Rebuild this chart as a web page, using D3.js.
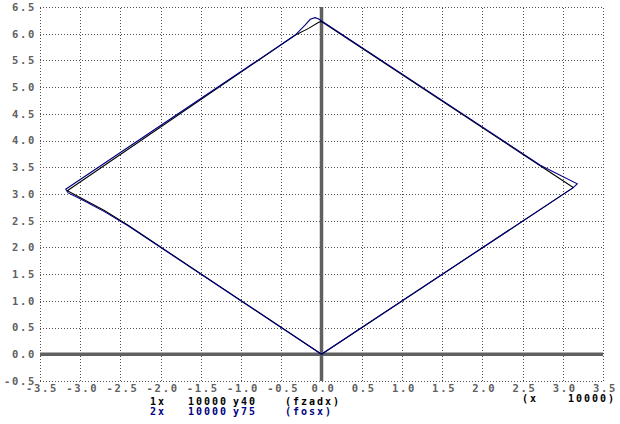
<!DOCTYPE html>
<html><head><meta charset="utf-8">
<script src="https://cdn.jsdelivr.net/npm/d3@7"></script>
<style>
html,body{margin:0;padding:0;background:#fff;}
svg{display:block;}
text{font-family:"DejaVu Sans Mono","Liberation Mono",monospace;font-weight:bold;font-size:10.5px;letter-spacing:1.7px;}
text.leg{font-size:10px;letter-spacing:2px;}
</style></head>
<body>
<script>
// Tick values / labels
const xTicks = [-3.5,-3.0,-2.5,-2.0,-1.5,-1.0,-0.5,0.0,0.5,1.0,1.5,2.0,2.5,3.0,3.5];
const xTickLabels = ["-3.5","-3.0","-2.5","-2.0","-1.5","-1.0","-0.5","0.0","0.5","1.0","1.5","2.0","2.5","3.0","3.5"];
const yTicks = [-0.5,0.0,0.5,1.0,1.5,2.0,2.5,3.0,3.5,4.0,4.5,5.0,5.5,6.0,6.5];
const yTickLabels = ["-0.5","0.0","0.5","1.0","1.5","2.0","2.5","3.0","3.5","4.0","4.5","5.0","5.5","6.0","6.5"];

// Series 1 (fzadx), black
const x1 = [0, 3.13, 0.00, -0.04, -0.16, -0.33, -3.16, -2.70, -2.40, 0];
const y1 = [0, 3.12, 6.23,  6.21,  6.10,  5.97,  3.06,  2.69,  2.41, 0];
// Series 2 (fosx), navy
const x2 = [0, 3.13, 3.18, 2.72, 0.02, -0.04, -0.08, -0.14, -0.205, -0.33, -3.18, -3.15, -3.00, -2.70, -2.40, 0];
const y2 = [0, 3.12, 3.19, 3.54, 6.22,  6.28,  6.30,  6.27,  6.16,  5.97,  3.09,  3.02,  2.91,  2.67,  2.40, 0];

const legendRows = [
  {num:"1x", scale:"10000", yv:"y40", name:"(fzadx)"},
  {num:"2x", scale:"10000", yv:"y75", name:"(fosx)"}
];
const seriesColors = ["#000000", "#000080"];

const W = 620, H = 424;
const svg = d3.select("body").append("svg").attr("width", W).attr("height", H);

const x = d3.scaleLinear().domain([-3.5, 3.5]).range([40, 603]);
const y = d3.scaleLinear().domain([-0.5, 6.5]).range([381, 7]);

const gridColor = "#505050";
const labelColor = "#606060";

// vertical grid + x labels
const gx = svg.append("g").attr("transform", `translate(0,${y(-0.5)})`)
  .call(d3.axisBottom(x).tickValues(xTicks)
    .tickSize(-(y(-0.5) - y(6.5)))
    .tickFormat((d,i) => xTickLabels[i]));
gx.select(".domain").remove();
gx.selectAll(".tick line").attr("stroke", gridColor).attr("stroke-dasharray", "1,2")
  .attr("shape-rendering", "crispEdges");
gx.selectAll(".tick text").attr("fill", labelColor).attr("font-family", null)
  .attr("font-size", null).attr("y", 11).attr("dy", 0).attr("dx", 1.5);

// horizontal grid + y labels
const gy = svg.append("g").attr("transform", `translate(${x(-3.5)},0)`)
  .call(d3.axisLeft(y).tickValues(yTicks)
    .tickSize(-(x(3.5) - x(-3.5)))
    .tickFormat((d,i) => yTickLabels[i]).tickPadding(4));
gy.select(".domain").remove();
gy.selectAll(".tick line").attr("stroke", gridColor).attr("stroke-dasharray", "1,2")
  .attr("shape-rendering", "crispEdges");
gy.selectAll(".tick text").attr("fill", labelColor).attr("font-family", null)
  .attr("font-size", null);

// zero axes
const axisColor = "#606060";
svg.append("line").attr("x1", x(-3.5)).attr("x2", x(3.5)).attr("y1", y(0)).attr("y2", y(0))
  .attr("stroke", axisColor).attr("stroke-width", 3.5);
svg.append("line").attr("x1", x(0)).attr("x2", x(0)).attr("y1", y(6.5)).attr("y2", y(-0.5))
  .attr("stroke", axisColor).attr("stroke-width", 3.5);

// curves
const line = d3.line().x(d => x(d[0])).y(d => y(d[1]));
const s1 = x1.map((v,i) => [v, y1[i]]);
const s2 = x2.map((v,i) => [v, y2[i]]);
svg.append("path").datum(s1).attr("d", line).attr("fill", "none")
  .attr("stroke", seriesColors[0]).attr("stroke-width", 1.1);
svg.append("path").datum(s2).attr("d", line).attr("fill", "none")
  .attr("stroke", seriesColors[1]).attr("stroke-width", 1.1);

// legend
legendRows.forEach((r, i) => {
  const by = 405 + i * 10;
  const g = svg.append("g").attr("fill", seriesColors[i]);
  g.append("text").attr("class", "leg").attr("x", 150).attr("y", by).text(r.num);
  g.append("text").attr("class", "leg").attr("x", 188).attr("y", by).text(r.scale);
  g.append("text").attr("class", "leg").attr("x", 233).attr("y", by).text(r.yv);
  g.append("text").attr("class", "leg").attr("x", 285).attr("y", by).text(r.name);
});
svg.append("text").attr("class", "leg").attr("x", 522).attr("y", 402).attr("fill", "#000").text("(x");
svg.append("text").attr("class", "leg").attr("x", 568).attr("y", 402).attr("fill", "#000").text("10000)");
</script>
</body></html>
